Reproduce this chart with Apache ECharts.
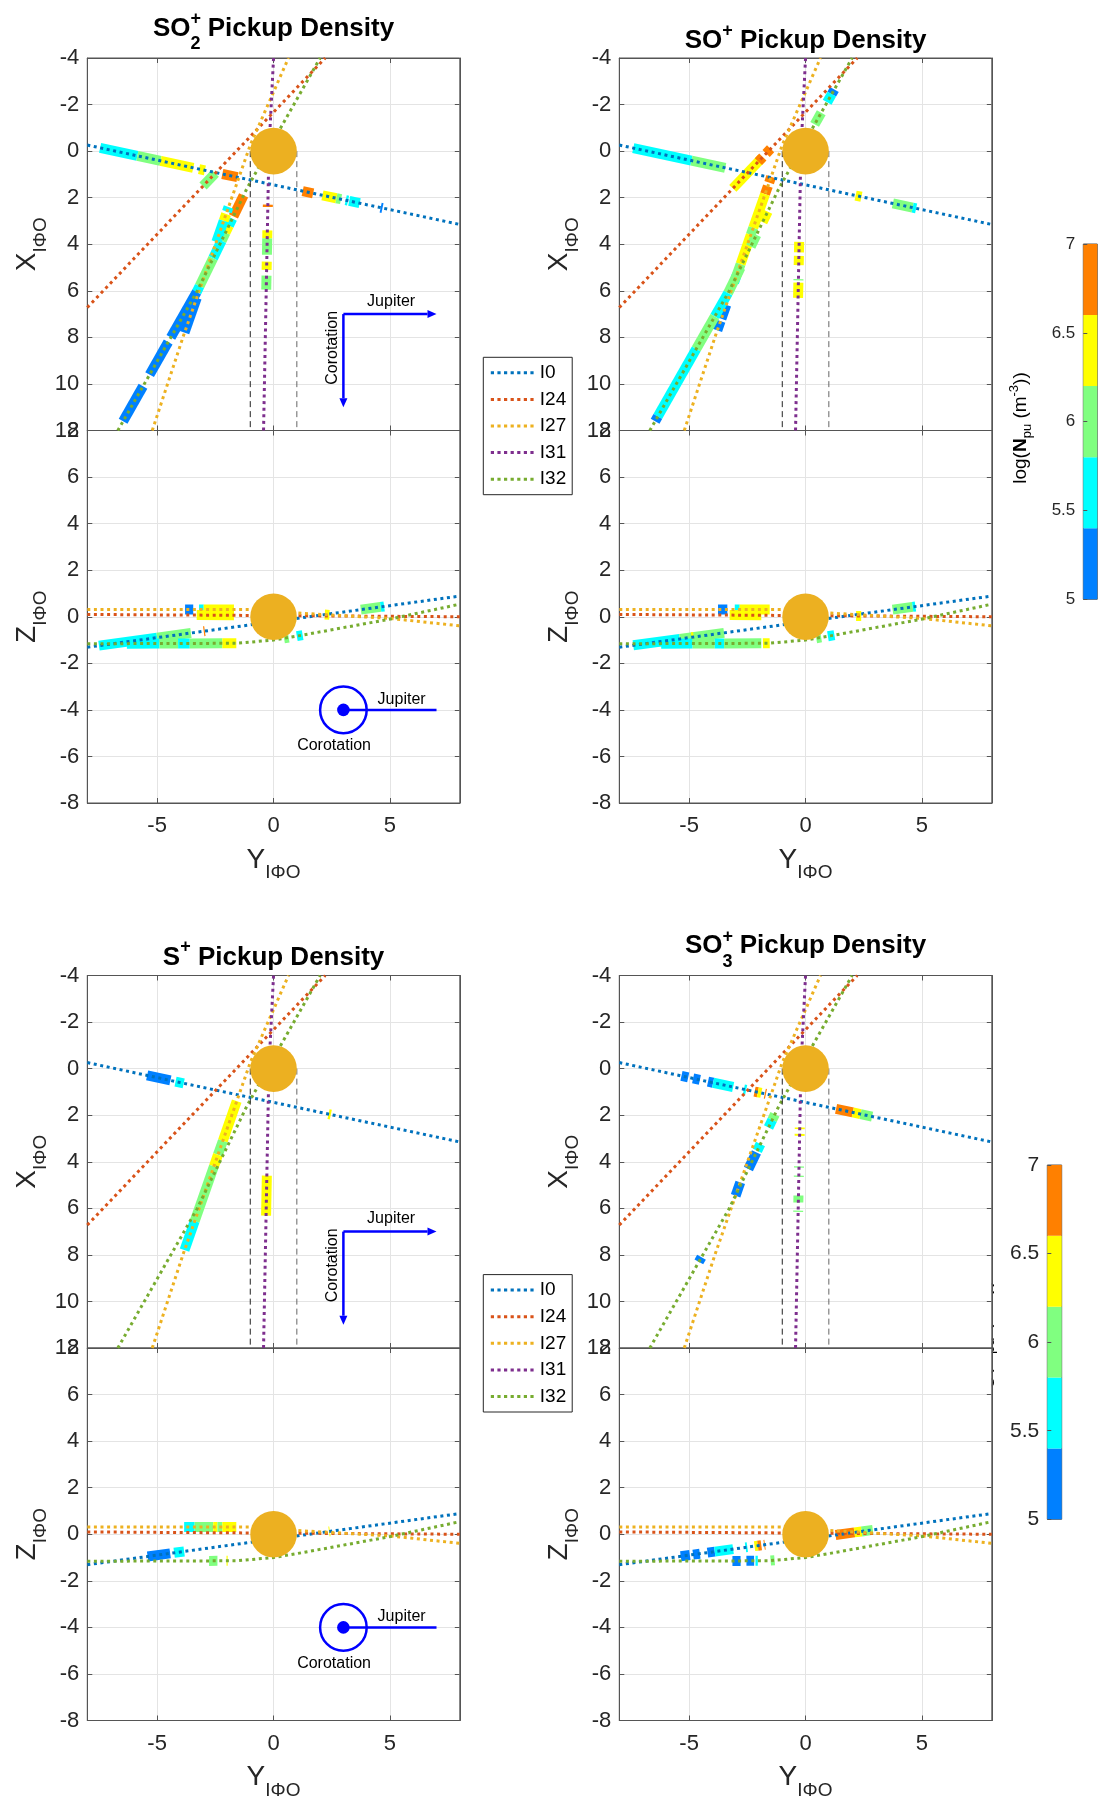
<!DOCTYPE html>
<html><head><meta charset="utf-8">
<script src="https://cdn.jsdelivr.net/npm/echarts@6/dist/echarts.min.js"></script>
<style>html,body{margin:0;padding:0;background:#fff}#c{width:1099px;height:1803px}</style>
</head><body><div id="c"></div><script>
// ---------------- DATA ----------------
const flybys = ['I0','I24','I27','I31','I32'];
const flybyColors = ['#0072BD','#D95319','#EDB120','#7E2F8E','#77AC30'];

// XY-plane trajectories, points [Y, X]
const xyI0  = [[-8,-0.26],[-4,0.6],[0,1.45],[4,2.3],[8,3.15]];
const xyI24 = [[-8,6.72],[-3,1.47],[2.22,-4]];
const xyI27 = [[-5.21,12],[-3.86,7.9],[-2.44,3.85],[-1.0,-0.26],[0.64,-4]];
const xyI31 = [[-0.43,12],[-0.2,0],[0,-4]];
const xyI32 = [[-6.69,12],[-3.29,6.03],[-1.14,1.6],[0.29,-0.97],[2.0,-4]];
// YZ-plane trajectories, points [Y, Z]
const yzI0  = [[-8,-1.31],[8,0.89]];
const yzI24 = [[-8,0.1],[8,0.0]];
const yzI27 = [[-8,0.31],[-1,0.31],[1.2,0.15],[5,-0.07],[8,-0.39]];
const yzI32 = [[-8,-1.16],[-1.6,-1.14],[0,-1.0],[1.24,-0.79],[4.96,-0.11],[8,0.54]];

// pickup density segments: [flyby, from, to, log10(N_pu)]
// XY plane: I0 runs along Y, other flybys along X. YZ plane: along Y.
const so2XY = [
 ['I0',-7.45,-5.85,5.6],['I0',-5.85,-4.85,6.0],['I0',-4.85,-3.45,6.4],['I0',-3.2,-2.95,6.4],['I0',-2.2,-1.55,6.8],
 ['I0',1.25,1.7,6.8],['I0',2.1,2.7,6.4],['I0',2.7,2.9,6.0],['I0',3.1,3.2,5.6],['I0',3.25,3.7,5.6],['I0',4.6,4.68,5.2],
 ['I24',0.95,1.5,6.0],
 ['I32',1.9,2.8,6.8],['I32',2.9,3.2,5.6],['I32',3.2,3.5,6.4],['I32',3.5,3.85,6.0],['I32',3.85,4.6,5.6],['I32',4.6,5.8,6.0],
 ['I32',5.8,6.05,5.6],['I32',6.05,8.0,5.2],['I32',8.2,9.6,5.2],['I32',10.1,11.6,5.2],
 ['I27',2.4,2.6,5.6],['I27',2.7,3.0,6.4],['I27',3.0,3.9,5.6],['I27',6.3,7.8,5.2],
 ['I31',2.3,2.4,6.8],['I31',3.4,3.75,6.4],['I31',3.75,4.45,6.0],['I31',4.75,5.1,6.4],['I31',5.35,5.95,6.0]
];
const so2YZ = [
 ['I27',-3.8,-3.45,5.2],['I27',-3.2,-3.0,5.6],['I27',-3.0,-1.7,6.4],['I24',-3.3,-1.7,6.4],
 ['I0',-7.5,-5.0,5.6],['I0',-5.0,-3.55,6.0],['I0',-3.0,-2.95,6.8],
 ['I32',-6.3,-4.9,5.6],['I32',-4.9,-4.1,6.0],['I32',-4.1,-3.6,5.6],['I32',-3.6,-2.2,6.0],['I32',-2.2,-1.6,6.4],
 ['I32',0.45,0.65,6.0],['I32',1.0,1.25,5.6],
 ['I27',2.2,2.4,6.4],['I0',3.75,4.6,6.0],['I0',4.6,4.75,5.6]
];
const soXY = [
 ['I0',-7.4,-4.9,5.6],['I0',-4.9,-3.45,6.0],['I0',2.15,2.4,6.4],['I0',3.75,4.6,6.0],['I0',4.6,4.75,5.6],
 ['I24',-0.1,0.1,6.8],['I24',0.3,1.6,6.4],['I24',0.25,0.45,6.8],
 ['I27',1.1,1.35,6.8],['I27',1.5,1.85,6.8],['I27',1.85,3.3,6.4],['I27',3.3,3.6,6.0],['I27',3.6,4.85,6.4],
 ['I27',4.85,5.35,6.0],['I27',5.35,5.65,5.6],['I27',6.6,7.2,5.2],['I27',7.3,7.7,5.2],
 ['I32',-2.65,-2.45,5.2],['I32',-2.45,-2.1,5.6],['I32',-1.65,-1.15,6.0],['I32',2.6,3.05,6.4],['I32',3.6,4.1,6.0],
 ['I32',5.0,6.1,6.0],['I32',6.1,7.1,5.6],['I32',7.1,8.5,6.0],['I32',8.5,11.4,5.6],['I32',11.4,11.6,5.2],
 ['I31',3.9,4.35,6.4],['I31',4.5,4.9,6.4],['I31',5.5,5.55,6.0],['I31',5.65,6.3,6.4]
];
const soYZ = [
 ['I27',-3.76,-3.36,5.2],['I27',-3.04,-2.83,5.6],['I27',-2.83,-1.54,6.4],['I24',-3.26,-1.9,6.4],
 ['I24',2.17,2.39,6.4],['I0',3.74,4.6,6.0],['I0',4.6,4.72,5.6],
 ['I0',-7.4,-5.4,5.6],['I0',-5.4,-3.5,6.0],['I0',-4.9,-4.8,6.4],
 ['I32',-6.2,-4.85,5.6],['I32',-4.85,-3.9,6.0],['I32',-3.9,-3.5,5.6],['I32',-3.5,-1.9,6.0],['I32',-1.83,-1.54,6.4],
 ['I32',0.46,0.67,6.0],['I32',0.96,1.24,5.6]
];
const sXY = [
 ['I0',-5.43,-4.43,5.2],['I0',-4.21,-3.86,5.6],['I0',2.36,2.46,6.4],
 ['I27',1.4,3.1,6.4],['I27',3.1,3.7,6.0],['I27',3.7,4.2,6.4],['I27',4.2,6.55,6.0],['I27',6.55,7.8,5.6],
 ['I31',4.6,6.31,6.4]
];
const sYZ = [
 ['I27',-3.84,-3.39,5.6],['I27',-3.39,-2.59,6.0],['I27',-2.59,-2.41,6.4],['I27',-2.41,-2.2,6.0],['I27',-2.2,-1.6,6.4],
 ['I0',-5.41,-4.44,5.2],['I0',-4.27,-3.84,5.6],['I0',2.38,2.42,6.4],
 ['I32',-2.77,-2.41,6.0],['I32',-2.02,-1.97,6.4]
];
const so3XY = [
 ['I0',-5.33,-5.04,5.2],['I0',-4.83,-4.54,5.2],['I0',-4.19,-3.97,5.2],['I0',-3.97,-3.11,5.6],['I0',-2.65,-2.55,5.6],
 ['I0',-2.19,-2.05,6.8],['I0',-2.05,-1.9,6.4],['I0',-1.75,-1.7,6.8],
 ['I0',1.31,2.03,6.8],['I0',2.03,2.36,6.4],['I0',2.36,2.86,6.0],
 ['I32',1.96,2.2,6.0],['I32',2.2,2.53,5.6],['I32',3.24,3.53,5.6],['I32',3.6,4.31,5.2],['I32',8.1,8.3,5.2],
 ['I27',4.89,5.46,5.2],
 ['I31',2.53,2.6,6.4],['I31',2.8,2.89,6.4],['I31',4.2,4.25,6.0],['I31',4.6,4.65,6.0],['I31',5.45,5.75,6.0],['I31',6.1,6.15,6.0]
];
const so3YZ = [
 ['I0',1.29,2.1,6.8],['I0',2.1,2.41,6.4],['I0',2.41,2.89,6.0],
 ['I0',-5.36,-4.97,5.2],['I0',-4.83,-4.54,5.2],['I0',-4.21,-3.9,5.2],['I0',-3.9,-3.11,5.6],['I0',-2.58,-2.5,5.6],
 ['I0',-2.19,-2.05,6.4],['I0',-2.05,-1.9,6.8],['I0',-1.78,-1.74,6.8],
 ['I32',-3.14,-2.79,5.2],['I32',-2.54,-2.21,5.2],['I32',-2.15,-2.05,5.6],['I32',-1.5,-1.33,6.0]
];

// colour scale (log10 N_pu)
const cbEdges  = [5,5.4,5.8,6.2,6.6,7];
const cbColors = ['#0080FF','#00FFFF','#80FF80','#FFFF00','#FF8000'];
const cbTicks  = [5,5.5,6,6.5,7];
const xTicks   = [-5,0,5];

// Io body and wake, annotations (data units, R_Io)
const ioBody   = [[0,0,1]];
const wakeY    = [-1,1];
const wakeX    = [0,12];
const arrowsXY = [[3,7,7,7],[3,7,3,11]];
const notesXY  = [[5.05,6.45,0,0],[2.55,8.45,90,1]];
const ringYZ   = [[3,-4,1,0.27]];
const barYZ    = [[3,-4,7,-4]];
const notesYZ  = [[5.5,-3.55,0,0],[2.6,-5.55,0,1]];
const noteTexts = ['Jupiter','Corotation'];

const panelTitles = [['SO','2','+'],['SO','','+'],['S','','+'],['SO','3','+']];
const panelSegXY = [so2XY, soXY, sXY, so3XY];
const panelSegYZ = [so2YZ, soYZ, sYZ, so3YZ];
const panelNotes = [true,false,true,false];

// ---------------- LAYOUT ----------------
const FF = '"Liberation Sans", Arial, Helvetica, sans-serif';
const axisCol = '#555555', gridCol = '#e4e4e4', txtCol = '#262626';
const pLeft = [87.3, 619.3, 87.3, 619.3];
const pTop  = [58, 58, 975.5, 975.5];
const PW = 372.5, PH = 372.5;

const trajXY = {I0:xyI0, I24:xyI24, I27:xyI27, I31:xyI31, I32:xyI32};
const trajYZ = {I0:yzI0, I24:yzI24, I27:yzI27, I32:yzI32};

function interp(pts, k, v){
  const s = pts.slice().sort((a,b)=>a[k]-b[k]);
  for (let i=0;i<s.length-1;i++){
    if (v<=s[i+1][k] || i===s.length-2){
      const t=(v-s[i][k])/(s[i+1][k]-s[i][k]);
      return [s[i][0]+t*(s[i+1][0]-s[i][0]), s[i][1]+t*(s[i+1][1]-s[i][1])];
    }
  }
}
function segRows(segs, plane){
  return segs.map(s=>{
    const pts = plane==='xy' ? trajXY[s[0]] : trajYZ[s[0]];
    const k = (plane==='xy' && s[0]!=='I0') ? 1 : 0;
    const a = interp(pts,k,s[1]), b = interp(pts,k,s[2]);
    return [a[0],a[1],b[0],b[1],s[3]];
  });
}
function bandColor(v){
  for (let i=0;i<cbColors.length;i++) if (v<cbEdges[i+1]) return cbColors[i];
  return cbColors[cbColors.length-1];
}

const grids=[], xAxes=[], yAxes=[], series=[];
function mkGrid(left,top,w,h){
  grids.push({left,top,width:w,height:h,show:true,borderColor:axisCol,borderWidth:1,backgroundColor:'#fff',outerBoundsMode:'none',containLabel:false});
  return grids.length-1;
}
function mkAxes(gi,min,max,inverse,xlabels){
  const line={show:true,onZero:false,lineStyle:{color:axisCol,width:1}};
  const tick={show:true,inside:true,length:5,lineStyle:{color:axisCol}};
  xAxes.push({gridIndex:gi,type:'value',position:'bottom',min:-8,max:8,axisLine:line,
    axisTick:Object.assign({customValues:xTicks},tick),
    axisLabel:{show:xlabels,customValues:xTicks,fontSize:22,color:txtCol,fontFamily:FF,margin:12},
    splitLine:{show:true,lineStyle:{color:gridCol,width:1}}});
  xAxes.push({gridIndex:gi,type:'value',position:'top',min:-8,max:8,axisLine:line,
    axisTick:Object.assign({customValues:xTicks},tick),axisLabel:{show:false},splitLine:{show:false}});
  yAxes.push({gridIndex:gi,type:'value',position:'left',min,max,interval:2,inverse,axisLine:line,axisTick:tick,
    axisLabel:{show:true,fontSize:22,color:txtCol,fontFamily:FF,margin:8},
    splitLine:{show:true,lineStyle:{color:gridCol,width:1}}});
  yAxes.push({gridIndex:gi,type:'value',position:'right',min,max,interval:2,inverse,axisLine:line,axisTick:tick,
    axisLabel:{show:false},splitLine:{show:false}});
}

function segSeries(ax, rows){
  return {type:'custom',xAxisIndex:ax,yAxisIndex:ax,clip:true,z:2,data:rows,encode:{x:[0,2],y:[1,3]},
    renderItem:(params,api)=>{
      const p1=api.coord([api.value(0),api.value(1)]), p2=api.coord([api.value(2),api.value(3)]);
      return {type:'line',shape:{x1:p1[0],y1:p1[1],x2:p2[0],y2:p2[1]},
        style:{stroke:bandColor(api.value(4)),lineWidth:10,lineCap:'butt'}};
    }};
}
function ioSeries(ax){
  return {type:'custom',xAxisIndex:ax,yAxisIndex:ax,clip:true,z:4,data:ioBody,encode:{x:0,y:1},
    renderItem:(params,api)=>{
      const c=api.coord([api.value(0),api.value(1)]);
      const r=Math.abs(api.size([api.value(2),api.value(2)])[0]);
      return {type:'circle',shape:{cx:c[0],cy:c[1],r},style:{fill:'#ECB021'}};
    }};
}
function noteSeries(ax, rows){
  return {type:'custom',xAxisIndex:ax,yAxisIndex:ax,z:6,data:rows,encode:{x:0,y:1},
    renderItem:(params,api)=>{
      const c=api.coord([api.value(0),api.value(1)]);
      return {type:'text',x:c[0],y:c[1],rotation:api.value(2)*Math.PI/180,
        style:{text:noteTexts[api.value(3)],font:'16px '+FF,fill:'#000',align:'center',verticalAlign:'middle'}};
    }};
}

for (let p=0;p<4;p++){
  const gU=mkGrid(pLeft[p],pTop[p],PW,PH);
  mkAxes(gU,-4,12,true,false);
  const gL=mkGrid(pLeft[p],pTop[p]+PH,PW,PH);
  mkAxes(gL,-8,8,false,true);
  const aU=2*gU, aL=2*gL;
  // upper: XY plane
  series.push(segSeries(aU, segRows(panelSegXY[p],'xy')));
  flybys.forEach((f,i)=>{
    series.push({type:'line',name:f,xAxisIndex:aU,yAxisIndex:aU,data:trajXY[f],symbol:'none',showSymbol:false,z:3,
      lineStyle:{color:flybyColors[i],width:3,type:[3,3.6],cap:'butt'},itemStyle:{color:flybyColors[i]},silent:true});
  });
  wakeY.forEach((y,i)=>{
    series.push({type:'line',xAxisIndex:aU,yAxisIndex:aU,data:wakeX.map(x=>[y,x]),symbol:'none',z:3,silent:true,
      lineStyle:{color:i?'#666':'#222',width:1,type:[6,4]}});
  });
  series.push(ioSeries(aU));
  // lower: YZ plane
  series.push(segSeries(aL, segRows(panelSegYZ[p],'yz')));
  ['I0','I24','I27','I32'].forEach(f=>{
    const i=flybys.indexOf(f);
    series.push({type:'line',name:f,xAxisIndex:aL,yAxisIndex:aL,data:trajYZ[f],symbol:'none',showSymbol:false,z:3,
      lineStyle:{color:flybyColors[i],width:3,type:[3,3.6],cap:'butt'},itemStyle:{color:flybyColors[i]},silent:true});
  });
  series.push(ioSeries(aL));
  if (panelNotes[p]){
    series.push({type:'custom',xAxisIndex:aU,yAxisIndex:aU,z:6,data:arrowsXY,encode:{x:[0,2],y:[1,3]},
      renderItem:(params,api)=>{
        const a=api.coord([api.value(0),api.value(1)]), b=api.coord([api.value(2),api.value(3)]);
        const dx=b[0]-a[0], dy=b[1]-a[1], L=Math.hypot(dx,dy), ux=dx/L, uy=dy/L;
        const hl=9, hw=4;
        const bx=b[0]-ux*hl, by=b[1]-uy*hl;
        return {type:'group',children:[
          {type:'line',shape:{x1:a[0],y1:a[1],x2:bx,y2:by},style:{stroke:'#0000FF',lineWidth:2.5}},
          {type:'polygon',shape:{points:[[b[0],b[1]],[bx-uy*hw,by+ux*hw],[bx+uy*hw,by-ux*hw]]},style:{fill:'#0000FF'}}]};
      }});
    series.push(noteSeries(aU, notesXY));
    series.push({type:'custom',xAxisIndex:aL,yAxisIndex:aL,z:6,data:ringYZ,encode:{x:0,y:1},
      renderItem:(params,api)=>{
        const c=api.coord([api.value(0),api.value(1)]);
        const r=Math.abs(api.size([api.value(2),api.value(2)])[0]);
        const r2=Math.abs(api.size([api.value(3),api.value(3)])[0]);
        return {type:'group',children:[
          {type:'circle',shape:{cx:c[0],cy:c[1],r},style:{fill:null,stroke:'#0000FF',lineWidth:2.5}},
          {type:'circle',shape:{cx:c[0],cy:c[1],r:r2},style:{fill:'#0000FF'}}]};
      }});
    series.push({type:'custom',xAxisIndex:aL,yAxisIndex:aL,z:6,data:barYZ,encode:{x:[0,2],y:[1,3]},
      renderItem:(params,api)=>{
        const a=api.coord([api.value(0),api.value(1)]), b=api.coord([api.value(2),api.value(3)]);
        return {type:'line',shape:{x1:a[0],y1:a[1],x2:b[0],y2:b[1]},style:{stroke:'#0000FF',lineWidth:2.5}};
      }});
    series.push(noteSeries(aL, notesYZ));
  }
}

// colour bars
const cbPos = [[1083.3,244,14,355.3,17],[1047.3,1165,14.4,354.3,21]];
cbPos.forEach(c=>{
  const g=grids.length;
  grids.push({left:c[0],top:c[1],width:c[2],height:c[3],show:true,borderColor:axisCol,borderWidth:1,outerBoundsMode:'none'});
  const ai=xAxes.length;
  xAxes.push({gridIndex:g,type:'value',min:0,max:1,show:false});
  yAxes.push({gridIndex:g,type:'value',position:'left',min:5,max:7,interval:0.5,z:10,
    axisLine:{show:false},axisTick:{show:true,inside:true,length:4,lineStyle:{color:axisCol}},
    axisLabel:{show:true,fontSize:c[4],color:txtCol,fontFamily:FF,margin:8,formatter:v=>String(v)},splitLine:{show:false}});
  series.push({type:'custom',xAxisIndex:ai,yAxisIndex:yAxes.length-1,z:2,
    data:cbColors.map((col,i)=>[0,cbEdges[i],1,cbEdges[i+1],i]),encode:{x:[0,2],y:[1,3]},
    renderItem:(params,api)=>{
      const p1=api.coord([api.value(0),api.value(1)]), p2=api.coord([api.value(2),api.value(3)]);
      return {type:'rect',shape:{x:p1[0],y:p2[1],width:p2[0]-p1[0],height:p1[1]-p2[1]},style:{fill:cbColors[api.value(4)]}};
    }});
});

// ---------------- TEXT (titles, axis names) ----------------
const ctx=document.createElement('canvas').getContext('2d');
function tw(t,f){ctx.font=f;return ctx.measureText(t).width;}
function textRow(cx,cy,parts,rot,z){
  let total=0;
  const adv=parts.map(p=>{const w=(p.adv!==undefined)?p.adv:tw(p.t,p.f);total+=w;return w;});
  let x=-total/2; const children=[];
  parts.forEach((p,i)=>{
    children.push({type:'text',x:x,y:p.dy||0,z:z||0,style:{text:p.t,font:p.f,fill:p.fill||'#000',align:'left',verticalAlign:'middle'}});
    x+=adv[i];
  });
  return {type:'group',x:cx,y:cy,rotation:rot||0,z:z||0,children};
}
const B26='bold 26px '+FF, B18='bold 18px '+FF;
const N28='28px '+FF, N19='19px '+FF, BN19='bold 19px '+FF, N13='13px '+FF;
const titleY=[28.5,41,957.5,946];
const graphics=[];
panelTitles.forEach((t,p)=>{
  const cx=pLeft[p]+PW/2;
  const parts=[{t:t[0],f:B26}];
  if (t[1]) { parts.push({t:t[2],f:B18,dy:-9,adv:0}); parts.push({t:t[1],f:B18,dy:16}); }
  else parts.push({t:t[2],f:B18,dy:-10});
  parts.push({t:' Pickup Density',f:B26});
  graphics.push(textRow(cx,titleY[p],parts));
  const sub={t:'I\u03A6O',f:N19,dy:13,fill:txtCol};
  graphics.push(textRow(pLeft[p]-60,pTop[p]+PH/2,[{t:'X',f:N28,fill:txtCol},sub],Math.PI/2));
  graphics.push(textRow(pLeft[p]-60,pTop[p]+PH*1.5,[{t:'Z',f:N28,fill:txtCol},sub],Math.PI/2));
  graphics.push(textRow(cx,pTop[p]+2*PH+57,[{t:'Y',f:N28,fill:txtCol},sub]));
});
const cbLabel=[{t:'log(',f:N19},{t:'N',f:BN19},{t:'pu',f:N13,dy:6},{t:' (m',f:N19},{t:'-3',f:N13,dy:-7},{t:'))',f:N19}];
graphics.push(textRow(1021,428,cbLabel,Math.PI/2));
graphics.push(textRow(984,1342,cbLabel.map(p=>Object.assign({},p,{f:p.f.replace('19px','21px').replace('13px','15px')})),Math.PI/2,-10));

const legends=[357.3,1274.6].map(top=>({data:flybys,orient:'vertical',left:483.3,top,itemWidth:44,itemHeight:20,itemGap:7.6,
  padding:[6,6,6,6],borderColor:'#262626',borderWidth:1,backgroundColor:'#fff',selectedMode:false,
  itemStyle:{opacity:0},
  lineStyle:{width:3,type:[3.2,3.4],cap:'butt'},
  textStyle:{fontSize:19,color:'#000',fontFamily:FF}}));

const chart=echarts.init(document.getElementById('c'),null,{renderer:'canvas'});
chart.setOption({animation:false,backgroundColor:'#fff',grid:grids,xAxis:xAxes,yAxis:yAxes,series,legend:legends,
  graphic:{elements:graphics}});
</script></body></html>
